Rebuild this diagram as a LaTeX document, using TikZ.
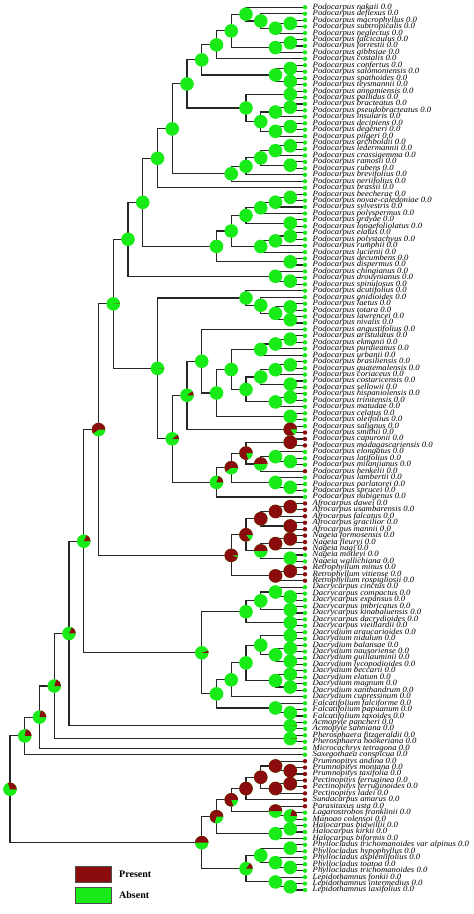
\documentclass[tikz,border=0pt]{standalone}
\usepackage{fontspec}
\setmainfont{Liberation Serif}
\newfontfamily\labfont{Liberation Serif}[FakeStretch=1.08]
\definecolor{pres}{RGB}{139,12,12}
\definecolor{absn}{RGB}{25,235,25}
\newcommand\Hs{14.75}
\newcommand\Rn{6.8}
\newcommand\Sa{0}
\newcommand\fglist{}
\tikzset{
  edge/.style={draw=black!85,line width=1.1pt},
  lab/.style={anchor=west,inner sep=0pt,font=\labfont\fontsize{8.05}{8.05}\selectfont\itshape},
  legtext/.style={anchor=west,inner sep=0pt,font=\bfseries\fontsize{10}{10}\selectfont},
  legbox/.style={minimum width=36pt,minimum height=16pt,inner sep=0pt,draw=black!70,line width=0.4pt}
}
\makeatletter
\newcommand\addfg[1]{\g@addto@macro\fglist{#1}}
\makeatother
\newcommand\drawpie[2]{%
  \begin{scope}[shift={(#1)},yscale=-1]
    \fill[absn] (0,0) circle[radius=\Rn];
    \ifdim #2pt>0.995pt \fill[pres] (0,0) circle[radius=\Rn];
    \else\ifdim #2pt>0.005pt
      \fill[pres] (0,0) -- (\Sa:\Rn) arc[start angle=\Sa, delta angle={360*#2}, radius=\Rn] -- cycle;
    \fi\fi
  \end{scope}}
\newcommand\T[3]{%
  \pgfmathsetmacro\yy{7.3+(#1-1)*6.443}%
  \expandafter\xdef\csname ny@t#1\endcsname{\yy}%
  \expandafter\xdef\csname nh@t#1\endcsname{0}%
  \coordinate (t#1) at (305,\yy);
  \node[lab] (l#1) at (312.5,\yy) {#3};
  \addfg{\fill[#2] (t#1) circle[radius=2.2];}%
}
\newcommand\N[4]{%
  \pgfmathsetmacro\hh{max(\csname nh@#2\endcsname,\csname nh@#3\endcsname)+1}%
  \pgfmathsetmacro\yy{(\csname ny@#2\endcsname+\csname ny@#3\endcsname)/2}%
  \pgfmathsetmacro\xx{305-\Hs*\hh}%
  \expandafter\xdef\csname nh@#1\endcsname{\hh}%
  \expandafter\xdef\csname ny@#1\endcsname{\yy}%
  \coordinate (#1) at (\xx,\yy);
  \draw[edge] (#1) |- (#2) (#1) |- (#3);
  \addfg{\drawpie{#1}{#4}}%
}
\begin{document}
\begin{tikzpicture}[x=1pt,y=-1pt]
\useasboundingbox (0,0) rectangle (474,914);
\T{1}{absn}{Podocarpus nakaii 0.0}
\T{2}{absn}{Podocarpus deflexus 0.0}
\T{3}{absn}{Podocarpus macrophyllus 0.0}
\T{4}{absn}{Podocarpus subtropicalis 0.0}
\T{5}{absn}{Podocarpus neglectus 0.0}
\T{6}{absn}{Podocarpus falcicaulus 0.0}
\T{7}{absn}{Podocarpus forrestii 0.0}
\T{8}{absn}{Podocarpus gibbsiae 0.0}
\T{9}{absn}{Podocarpus costalis 0.0}
\T{10}{absn}{Podocarpus confertus 0.0}
\T{11}{absn}{Podocarpus salomoniensis 0.0}
\T{12}{absn}{Podocarpus spathoides 0.0}
\T{13}{absn}{Podocarpus teysmannii 0.0}
\T{14}{absn}{Podocarpus annamiensis 0.0}
\T{15}{absn}{Podocarpus pallidus 0.0}
\T{16}{absn}{Podocarpus bracteatus 0.0}
\T{17}{absn}{Podocarpus pseudobracteatus 0.0}
\T{18}{absn}{Podocarpus insularis 0.0}
\T{19}{absn}{Podocarpus decipiens 0.0}
\T{20}{absn}{Podocarpus degeneri 0.0}
\T{21}{absn}{Podocarpus pilgeri 0.0}
\T{22}{absn}{Podocarpus archboldii 0.0}
\T{23}{absn}{Podocarpus ledermannii 0.0}
\T{24}{absn}{Podocarpus crassigemma 0.0}
\T{25}{absn}{Podocarpus ramosii 0.0}
\T{26}{absn}{Podocarpus rubens 0.0}
\T{27}{absn}{Podocarpus brevifolius 0.0}
\T{28}{absn}{Podocarpus neriifolius 0.0}
\T{29}{absn}{Podocarpus brassii 0.0}
\T{30}{absn}{Podocarpus beecherae 0.0}
\T{31}{absn}{Podocarpus novae-caledoniae 0.0}
\T{32}{absn}{Podocarpus sylvestris 0.0}
\T{33}{absn}{Podocarpus polyspermus 0.0}
\T{34}{absn}{Podocarpus grayae 0.0}
\T{35}{absn}{Podocarpus longefoliolatus 0.0}
\T{36}{absn}{Podocarpus elatus 0.0}
\T{37}{absn}{Podocarpus polystachyus 0.0}
\T{38}{absn}{Podocarpus rumphii 0.0}
\T{39}{absn}{Podocarpus lucienii 0.0}
\T{40}{absn}{Podocarpus decumbens 0.0}
\T{41}{absn}{Podocarpus dispermus 0.0}
\T{42}{absn}{Podocarpus chingianus 0.0}
\T{43}{absn}{Podocarpus drouynianus 0.0}
\T{44}{absn}{Podocarpus spinulosus 0.0}
\T{45}{absn}{Podocarpus acutifolius 0.0}
\T{46}{absn}{Podocarpus gnidioides 0.0}
\T{47}{absn}{Podocarpus laetus 0.0}
\T{48}{absn}{Podocarpus totara 0.0}
\T{49}{absn}{Podocarpus lawrencei 0.0}
\T{50}{absn}{Podocarpus nivalis 0.0}
\T{51}{absn}{Podocarpus angustifolius 0.0}
\T{52}{absn}{Podocarpus aristulatus 0.0}
\T{53}{absn}{Podocarpus ekmanii 0.0}
\T{54}{absn}{Podocarpus purdieanus 0.0}
\T{55}{absn}{Podocarpus urbanii 0.0}
\T{56}{absn}{Podocarpus brasiliensis 0.0}
\T{57}{absn}{Podocarpus guatemalensis 0.0}
\T{58}{absn}{Podocarpus coriaceus 0.0}
\T{59}{absn}{Podocarpus costaricensis 0.0}
\T{60}{absn}{Podocarpus sellowii 0.0}
\T{61}{absn}{Podocarpus hispaniolensis 0.0}
\T{62}{absn}{Podocarpus trinitensis 0.0}
\T{63}{absn}{Podocarpus matudae 0.0}
\T{64}{absn}{Podocarpus celatus 0.0}
\T{65}{absn}{Podocarpus oleifolius 0.0}
\T{66}{absn}{Podocarpus salignus 0.0}
\T{67}{pres}{Podocarpus smithii 0.0}
\T{68}{pres}{Podocarpus capuronii 0.0}
\T{69}{pres}{Podocarpus madagascariensis 0.0}
\T{70}{absn}{Podocarpus elongatus 0.0}
\T{71}{absn}{Podocarpus latifolius 0.0}
\T{72}{absn}{Podocarpus milanjianus 0.0}
\T{73}{pres}{Podocarpus henkelii 0.0}
\T{74}{absn}{Podocarpus lambertii 0.0}
\T{75}{absn}{Podocarpus parlatorei 0.0}
\T{76}{absn}{Podocarpus sprucei 0.0}
\T{77}{absn}{Podocarpus nubigenus 0.0}
\T{78}{pres}{Afrocarpus dawei 0.0}
\T{79}{pres}{Afrocarpus usambarensis 0.0}
\T{80}{pres}{Afrocarpus falcatus 0.0}
\T{81}{pres}{Afrocarpus gracilior 0.0}
\T{82}{pres}{Afrocarpus mannii 0.0}
\T{83}{pres}{Nageia formosensis 0.0}
\T{84}{pres}{Nageia fleuryi 0.0}
\T{85}{pres}{Nageia nagi 0.0}
\T{86}{absn}{Nageia motleyi 0.0}
\T{87}{absn}{Nageia wallichiana 0.0}
\T{88}{pres}{Retrophyllum minus 0.0}
\T{89}{pres}{Retrophyllum vitiense 0.0}
\T{90}{pres}{Retrophyllum rospigliosii 0.0}
\T{91}{absn}{Dacrycarpus cinctus 0.0}
\T{92}{absn}{Dacrycarpus compactus 0.0}
\T{93}{absn}{Dacrycarpus expansus 0.0}
\T{94}{absn}{Dacrycarpus imbricatus 0.0}
\T{95}{absn}{Dacrycarpus kinabaluensis 0.0}
\T{96}{absn}{Dacrycarpus dacrydioides 0.0}
\T{97}{absn}{Dacrycarpus vieillardii 0.0}
\T{98}{absn}{Dacrydium araucarioides 0.0}
\T{99}{absn}{Dacrydium nidulum 0.0}
\T{100}{absn}{Dacrydium balansae 0.0}
\T{101}{absn}{Dacrydium nausoriense 0.0}
\T{102}{absn}{Dacrydium guillauminii 0.0}
\T{103}{absn}{Dacrydium lycopodioides 0.0}
\T{104}{absn}{Dacrydium beccarii 0.0}
\T{105}{absn}{Dacrydium elatum 0.0}
\T{106}{absn}{Dacrydium magnum 0.0}
\T{107}{absn}{Dacrydium xanthandrum 0.0}
\T{108}{absn}{Dacrydium cupressinum 0.0}
\T{109}{absn}{Falcatifolium falciforme 0.0}
\T{110}{absn}{Falcatifolium papuanum 0.0}
\T{111}{absn}{Falcatifolium taxoides 0.0}
\T{112}{absn}{Acmopyle pancheri 0.0}
\T{113}{absn}{Acmopyle sahniana 0.0}
\T{114}{absn}{Pherosphaera fitzgeraldii 0.0}
\T{115}{absn}{Pherosphaera hookeriana 0.0}
\T{116}{absn}{Microcachrys tetragona 0.0}
\T{117}{absn}{Saxegothaea conspicua 0.0}
\T{118}{pres}{Prumnopitys andina 0.0}
\T{119}{pres}{Prumnopitys montana 0.0}
\T{120}{pres}{Prumnopitys taxifolia 0.0}
\T{121}{pres}{Pectinopitys ferruginea 0.0}
\T{122}{pres}{Pectinopitys ferruginoides 0.0}
\T{123}{pres}{Pectinopitys ladei 0.0}
\T{124}{pres}{Sundacarpus amarus 0.0}
\T{125}{pres}{Parasitaxus usta 0.0}
\T{126}{absn}{Lagarostrobos franklinii 0.0}
\T{127}{absn}{Manoao colensoi 0.0}
\T{128}{absn}{Halocarpus bidwillii 0.0}
\T{129}{absn}{Halocarpus kirkii 0.0}
\T{130}{absn}{Halocarpus biformis 0.0}
\T{131}{absn}{Phyllocladus trichomanoides var alpinus 0.0}
\T{132}{absn}{Phyllocladus hypophyllus 0.0}
\T{133}{absn}{Phyllocladus aspleniifolius 0.0}
\T{134}{absn}{Phyllocladus toatoa 0.0}
\T{135}{absn}{Phyllocladus trichomanoides 0.0}
\T{136}{absn}{Lepidothamnus fonkii 0.0}
\T{137}{absn}{Lepidothamnus intermedius 0.0}
\T{138}{absn}{Lepidothamnus laxifolius 0.0}
% upper Podocarpus
\N{a4}{t3}{t4}{0}
\N{a3}{a4}{t5}{0}
\N{a2}{t2}{a3}{0}
\N{a1}{t1}{a2}{0}
\N{b1}{t6}{t7}{0}
\N{b2}{b1}{t8}{0}
\N{a5}{a1}{b2}{0}
\N{a6}{a5}{t9}{0}
\N{c1}{t10}{t11}{0}
\N{c2}{t12}{t13}{0}
\N{c3}{c1}{c2}{0}
\N{a7}{a6}{c3}{0}
\N{d1}{t14}{t15}{0}
\N{d2}{t16}{t17}{0}
\N{d3}{d2}{t18}{0}
\N{d4}{t19}{t20}{0}
\N{d5}{d4}{t21}{0}
\N{d6}{d3}{d5}{0}
\N{d7}{d1}{d6}{0}
\N{a8}{a7}{d7}{0}
\N{e1}{t22}{t23}{0}
\N{e2}{e1}{t24}{0}
\N{e3}{t25}{t26}{0}
\N{e4}{e2}{e3}{0}
\N{e5}{e4}{t27}{0}
\N{e6}{e5}{t28}{0}
\N{a9}{a8}{e6}{0}
% middle Podocarpus
\N{f1}{t30}{t31}{0}
\N{f2}{f1}{t32}{0}
\N{f3}{f2}{t33}{0}
\N{f4}{t34}{t35}{0}
\N{f5}{f3}{f4}{0}
\N{g1}{t36}{t37}{0}
\N{g2}{g1}{t38}{0}
\N{g3}{g2}{t39}{0}
\N{f6}{f5}{g3}{0}
\N{h1}{t40}{t41}{0}
\N{f7}{f6}{h1}{0}
\N{i1}{t43}{t44}{0}
\N{i2}{t42}{i1}{0}
\N{j1}{t47}{t48}{0}
\N{j2}{t49}{t50}{0}
\N{j3}{j1}{j2}{0}
\N{j4}{t46}{j3}{0}
\N{j5}{t45}{j4}{0}
% lower Podocarpus
\N{k1}{t52}{t53}{0}
\N{k2}{k1}{t54}{0}
\N{k3}{k2}{t55}{0}
\N{l1}{t56}{t57}{0}
\N{l2}{l1}{t58}{0}
\N{l3}{t59}{t60}{0}
\N{l4}{l2}{l3}{0}
\N{l5}{t61}{t62}{0}
\N{l6}{l5}{t63}{0}
\N{l7}{l4}{l6}{0}
\N{k4}{k3}{l7}{0}
\N{m1}{t64}{t65}{0}
\N{k5}{k4}{m1}{0}
\N{k6}{t51}{k5}{0}
\N{n1}{t66}{t67}{0.85}
\N{k7}{k6}{n1}{0.1}
\N{o1}{t68}{t69}{1}
\N{o2}{t71}{t72}{0}
\N{o3}{t70}{o2}{0}
\N{o4}{o3}{t73}{0.5}
\N{o5}{o1}{o4}{0.8}
\N{p1}{t75}{t76}{0}
\N{p2}{t74}{p1}{0}
\N{o6}{o5}{p2}{0.6}
\N{o7}{o6}{t77}{0.2}
\N{k8}{k7}{o7}{0.1}
% Afrocarpus, Nageia, Retrophyllum
\N{q1}{t78}{t79}{1}
\N{q2}{q1}{t80}{1}
\N{q3}{t81}{t82}{1}
\N{q4}{q2}{q3}{1}
\N{r1}{t83}{t84}{1}
\N{r2}{r1}{t85}{1}
\N{r3}{t86}{t87}{0}
\N{r4}{r2}{r3}{0.5}
\N{q5}{q4}{r4}{0.85}
\N{s1}{t88}{t89}{1}
\N{s2}{s1}{t90}{1}
\N{q6}{q5}{s2}{0.95}
% Dacrycarpus, Dacrydium, Falcatifolium
\N{u1}{t92}{t93}{0}
\N{u2}{t91}{u1}{0}
\N{u3}{t94}{t95}{0}
\N{u4}{u2}{u3}{0}
\N{u5}{t96}{t97}{0}
\N{u6}{u4}{u5}{0}
\N{v1}{t98}{t99}{0}
\N{v2}{t100}{t101}{0}
\N{v3}{t102}{t103}{0}
\N{v4}{v2}{v3}{0}
\N{v5}{v1}{v4}{0}
\N{v6}{t104}{t105}{0}
\N{v7}{t106}{t107}{0}
\N{v8}{v6}{v7}{0}
\N{v9}{v5}{v8}{0}
\N{v10}{v9}{t108}{0}
\N{w1}{t110}{t111}{0}
\N{w2}{t109}{w1}{0}
\N{v11}{v10}{w2}{0}
\N{u7}{u6}{v11}{0.05}
\N{x1}{t112}{t113}{0.01}
\N{x2}{t114}{t115}{0.01}
% Prumnopitys group
\N{y1}{t119}{t120}{1}
\N{y2}{t118}{y1}{1}
\N{y3}{t121}{t122}{1}
\N{y4}{y3}{t123}{1}
\N{y5}{y2}{y4}{1}
\N{y6}{y5}{t124}{1}
\N{y7}{t126}{t127}{0.2}
\N{y8}{t125}{y7}{0.5}
\N{y9}{y6}{y8}{0.8}
\N{z1}{t128}{t129}{0}
\N{z2}{z1}{t130}{0}
\N{y10}{y9}{z2}{0.7}
\N{z3}{t131}{t132}{0}
\N{z4}{t134}{t135}{0}
\N{z5}{t133}{z4}{0}
\N{z6}{z3}{z5}{0}
\N{z7}{t137}{t138}{0}
\N{z8}{t136}{z7}{0}
\N{z9}{z6}{z8}{0.15}
\N{y11}{y10}{z9}{0.5}
% backbone
\N{S1}{a9}{t29}{0}
\N{S2}{S1}{f7}{0}
\N{S3}{S2}{i2}{0}
\N{N10}{j5}{k8}{0.01}
\N{S4}{S3}{N10}{0.01}
\N{P14}{S4}{q6}{0.6}
\N{P15}{P14}{u7}{0.18}
\N{P16}{P15}{x1}{0.18}
\N{P17}{P16}{x2}{0.2}
\N{P18}{P17}{t116}{0.22}
\N{P19}{P18}{t117}{0.22}
\N{R20}{P19}{y11}{0.3}
\fglist
% legend
\node[legbox,fill=pres] (lgp) at (93,874) {};
\node[legbox,fill=absn] (lga) at (93,895.5) {};
\node[legtext] (lgpt) at (119,874) {Present};
\node[legtext] (lgat) at (119,895.5) {Absent};
\end{tikzpicture}
\end{document}
